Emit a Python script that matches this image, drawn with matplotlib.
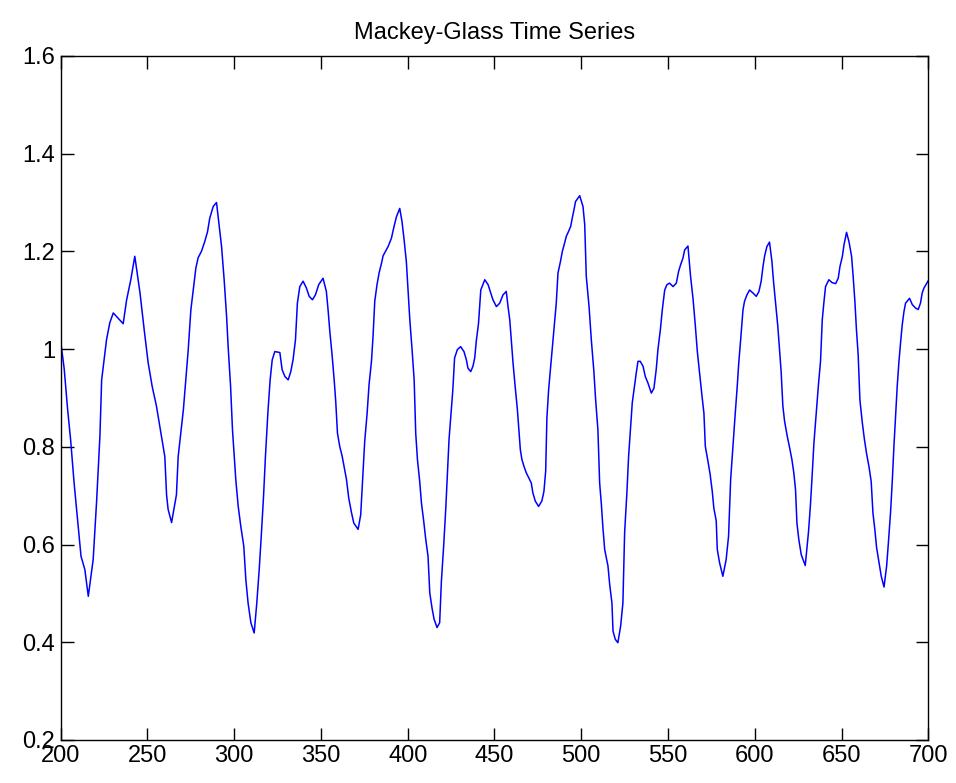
import matplotlib
matplotlib.use("Agg")
import matplotlib.pyplot as plt

# Mackey-Glass series, values
t = [200.0, 202.0, 204.0, 205.7, 207.7, 209.7, 211.7, 213.9, 215.9, 218.7,
     220.7, 222.6, 223.6, 226.4, 228.3, 230.3, 236.0, 238.0, 240.4, 242.7,
     245.7, 248.1, 250.4, 252.7, 255.2, 257.7, 260.0, 261.0, 261.9, 263.9,
     266.7, 267.7, 269.2, 270.7, 272.1, 273.5, 275.0, 276.3, 277.9, 279.2,
     281.1, 283.0, 284.6, 285.9, 287.9, 289.8, 291.3, 292.7, 294.2, 295.6,
     296.5, 297.9, 299.0, 300.0, 300.9, 302.3, 303.8, 305.5, 306.7, 308.0,
     309.6, 311.5, 313.0, 314.4, 315.7, 316.9, 318.0, 319.4, 320.7, 321.9,
     323.4, 326.3, 327.6, 329.2, 331.1, 332.6, 333.9, 335.3, 336.4, 337.8,
     339.7, 341.6, 343.2, 345.1, 346.8, 348.7, 351.2, 353.1, 354.1, 355.1,
     356.4, 357.6, 358.5, 359.5, 360.8, 362.2, 363.3, 364.7, 366.0, 367.6,
     368.9, 371.4, 372.9, 374.3, 375.2, 376.6, 377.7, 379.1, 380.0, 381.0,
     382.3, 383.5, 384.9, 385.8, 387.2, 388.7, 390.6, 392.1, 393.5, 395.4,
     396.7, 397.9, 399.2, 400.2, 401.2, 402.5, 403.7, 404.6, 405.6, 406.9,
     407.9, 409.2, 410.4, 411.7, 412.7, 414.0, 415.2, 416.9, 418.4, 419.4,
     420.7, 421.9, 422.9, 423.8, 425.1, 426.0, 427.0, 428.6, 430.5, 432.4,
     433.8, 434.7, 436.3, 437.6, 438.6, 439.5, 440.8, 442.1, 444.4, 446.3,
     447.8, 449.1, 451.1, 453.0, 454.9, 456.8, 457.8, 458.8, 459.7, 460.7,
     462.0, 463.2, 463.9, 464.9, 465.8, 467.0, 468.3, 469.8, 471.2, 472.1,
     473.5, 475.4, 477.3, 478.5, 479.5, 480.2, 481.2, 482.4, 483.7, 484.7,
     485.6, 486.6, 488.0, 489.1, 490.4, 491.4, 492.7, 493.9, 494.8, 495.8,
     496.7, 499.1, 501.0, 502.0, 502.9, 504.5, 505.8, 507.2, 508.3, 509.6,
     510.6, 511.6, 512.5, 513.5, 515.4, 516.4, 517.7, 518.3, 519.6, 521.1,
     522.7, 524.0, 525.0, 526.3, 527.3, 528.5, 529.4, 530.8, 531.7, 532.7,
     534.0, 535.6, 536.9, 538.4, 540.4, 541.9, 543.2, 544.2, 545.6, 546.7,
     548.1, 549.4, 550.9, 552.9, 554.8, 556.1, 557.3, 558.6, 559.6, 561.5,
     563.0, 564.4, 565.7, 566.9, 568.2, 569.5, 570.7, 571.5, 573.0, 574.3,
     575.5, 576.4, 577.8, 578.4, 579.7, 581.6, 583.5, 584.9, 586.1, 587.4,
     588.7, 589.9, 590.8, 591.8, 593.2, 594.1, 595.5, 597.0, 598.9, 600.9,
     602.4, 603.7, 604.7, 605.7, 607.0, 608.5, 609.9, 610.8, 612.0, 613.3,
     614.3, 615.2, 616.2, 617.2, 618.7, 620.1, 621.4, 622.5, 623.5, 624.3,
     625.4, 626.8, 629.1, 631.0, 632.1, 633.1, 634.1, 635.4, 636.7, 637.9,
     638.9, 639.8, 640.8, 642.7, 644.6, 646.6, 648.1, 649.1, 650.5, 651.4,
     652.9, 654.3, 655.8, 656.7, 657.7, 658.6, 659.6, 660.6, 661.9, 663.2,
     664.4, 665.8, 667.1, 668.1, 669.2, 670.2, 671.6, 672.9, 674.5, 676.0,
     677.0, 678.3, 679.3, 680.2, 681.2, 682.1, 683.1, 684.1, 685.0, 686.0,
     686.9, 689.2, 690.8, 692.7, 694.2, 695.5, 696.5, 697.5, 700.0]

x = [1.016, 0.960, 0.876, 0.815, 0.727, 0.651, 0.576, 0.549, 0.494, 0.569,
     0.689, 0.822, 0.937, 1.019, 1.054, 1.074, 1.052, 1.101, 1.142, 1.190,
     1.115, 1.040, 0.972, 0.924, 0.883, 0.829, 0.780, 0.702, 0.672, 0.645,
     0.702, 0.780, 0.829, 0.876, 0.937, 0.999, 1.080, 1.118, 1.166, 1.187,
     1.200, 1.220, 1.240, 1.268, 1.292, 1.300, 1.254, 1.210, 1.142, 1.067,
     1.005, 0.924, 0.835, 0.780, 0.733, 0.678, 0.637, 0.597, 0.528, 0.480,
     0.440, 0.419, 0.480, 0.549, 0.624, 0.699, 0.781, 0.870, 0.937, 0.978,
     0.995, 0.993, 0.958, 0.944, 0.937, 0.954, 0.978, 1.019, 1.094, 1.128,
     1.139, 1.125, 1.108, 1.101, 1.111, 1.132, 1.145, 1.118, 1.080, 1.036,
     0.988, 0.937, 0.893, 0.828, 0.801, 0.781, 0.760, 0.733, 0.695, 0.665,
     0.644, 0.631, 0.661, 0.750, 0.811, 0.869, 0.927, 0.975, 1.026, 1.098,
     1.132, 1.156, 1.176, 1.191, 1.200, 1.210, 1.227, 1.251, 1.271, 1.288,
     1.261, 1.224, 1.179, 1.121, 1.060, 0.999, 0.937, 0.828, 0.774, 0.729,
     0.685, 0.648, 0.610, 0.576, 0.501, 0.470, 0.447, 0.430, 0.440, 0.525,
     0.597, 0.672, 0.746, 0.815, 0.876, 0.917, 0.982, 0.999, 1.005, 0.995,
     0.978, 0.961, 0.954, 0.965, 0.982, 1.016, 1.053, 1.121, 1.142, 1.132,
     1.115, 1.101, 1.087, 1.094, 1.111, 1.118, 1.087, 1.060, 1.019, 0.971,
     0.920, 0.876, 0.842, 0.794, 0.774, 0.760, 0.747, 0.736, 0.726, 0.706,
     0.689, 0.678, 0.689, 0.709, 0.750, 0.859, 0.917, 0.965, 1.016, 1.057,
     1.094, 1.156, 1.179, 1.200, 1.217, 1.231, 1.241, 1.251, 1.268, 1.285,
     1.302, 1.314, 1.292, 1.255, 1.149, 1.087, 1.019, 0.958, 0.896, 0.835,
     0.726, 0.682, 0.634, 0.590, 0.556, 0.518, 0.480, 0.423, 0.406, 0.399,
     0.433, 0.480, 0.624, 0.706, 0.781, 0.842, 0.890, 0.927, 0.951, 0.975,
     0.975, 0.965, 0.944, 0.931, 0.910, 0.920, 0.958, 0.999, 1.040, 1.080,
     1.121, 1.132, 1.135, 1.128, 1.135, 1.159, 1.173, 1.186, 1.203, 1.211,
     1.149, 1.104, 1.050, 0.995, 0.951, 0.907, 0.869, 0.801, 0.771, 0.743,
     0.709, 0.675, 0.648, 0.590, 0.563, 0.535, 0.569, 0.617, 0.733, 0.801,
     0.866, 0.924, 0.973, 1.016, 1.080, 1.098, 1.111, 1.121, 1.115, 1.108,
     1.118, 1.139, 1.168, 1.191, 1.210, 1.219, 1.179, 1.139, 1.094, 1.046,
     0.999, 0.954, 0.883, 0.852, 0.822, 0.798, 0.774, 0.747, 0.712, 0.644,
     0.610, 0.579, 0.557, 0.627, 0.682, 0.743, 0.808, 0.869, 0.927, 0.975,
     1.060, 1.094, 1.128, 1.142, 1.136, 1.134, 1.145, 1.169, 1.190, 1.213,
     1.239, 1.220, 1.190, 1.149, 1.098, 1.040, 0.988, 0.896, 0.852, 0.815,
     0.787, 0.760, 0.729, 0.665, 0.631, 0.594, 0.563, 0.535, 0.513, 0.556,
     0.603, 0.668, 0.733, 0.801, 0.866, 0.924, 0.975, 1.016, 1.050, 1.077,
     1.094, 1.104, 1.091, 1.084, 1.081, 1.094, 1.115, 1.125, 1.140]

xticks = [200, 250, 300, 350, 400, 450, 500, 550, 600, 650, 700]
yticks = [0.2, 0.4, 0.6, 0.8, 1.0, 1.2, 1.4, 1.6]
yticklabels = ['0.2', '0.4', '0.6', '0.8', '1', '1.2', '1.4', '1.6']

plt.rcParams['font.family'] = ['Liberation Sans Narrow', 'Liberation Sans', 'DejaVu Sans']

fig = plt.figure(figsize=(9.56, 7.83), dpi=100)
ax = fig.add_axes([0.0635, 0.055, 0.9075, 0.8735])

ax.plot(t, x, color='#0000ff', linewidth=1.1)

ax.set_xlim(200, 700)
ax.set_ylim(0.2, 1.6)
ax.set_xticks(xticks)
ax.set_yticks(yticks)
ax.set_yticklabels(yticklabels)
ax.tick_params(direction='in', length=9, width=1, top=True, right=True,
               labelsize=17, pad=4)
for s in ax.spines.values():
    s.set_linewidth(1)
ax.set_title('Mackey-Glass Time Series', fontsize=17, pad=12)

fig.savefig('out.png', dpi=100)
